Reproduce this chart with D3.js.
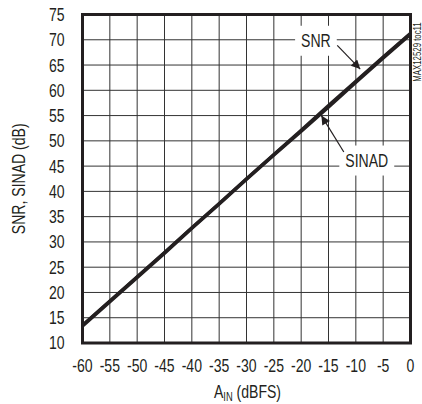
<!DOCTYPE html>
<html>
<head>
<meta charset="utf-8">
<script src="https://cdn.jsdelivr.net/npm/d3@7"></script>
<style>
  body { margin: 0; background: #fff; }
  text { font-family: "Liberation Sans", Arial, sans-serif; fill: #231f20; }
</style>
</head>
<body>
<svg id="chart"></svg>
<script>
// input amplitude (dBFS)
const ain = [-60, -55, -50, -45, -40, -35, -30, -25, -20, -15, -10, -5, 0];
const snr = [13.5, 18.3, 23.1, 27.9, 32.8, 37.6, 42.5, 47.3, 52.1, 57.0, 61.8, 66.6, 71.3];
const sinad = [13.4, 18.2, 23.0, 27.8, 32.7, 37.5, 42.4, 47.2, 51.9, 56.7, 61.6, 66.4, 71.1];

const xTicks = [-60, -55, -50, -45, -40, -35, -30, -25, -20, -15, -10, -5, 0];
const yTicks = [10, 15, 20, 25, 30, 35, 40, 45, 50, 55, 60, 65, 70, 75];

// label text, label anchor, arrow start, arrow tip (in data units)
const labels = [
    { text: "SNR", at: [-17.3, 69.9], from: [-13.4, 68.9], to: [-9.2, 64.2] },
    { text: "SINAD", at: [-8.0, 46.2], from: [-12.2, 47.8], to: [-16.3, 55.0] }
];

const margin = { top: 14.5, right: 11.5, bottom: 61, left: 82.5 };
const totalW = 422, totalH = 404;
const width = totalW - margin.left - margin.right;
const height = totalH - margin.top - margin.bottom;
const fs = "18px";

// squeeze text to look like a narrow face
const narrow = (sel, k = 0.78) => sel.each(function () {
    const w = this.getComputedTextLength();
    d3.select(this).attr("textLength", w * k).attr("lengthAdjust", "spacingAndGlyphs");
});

const svg = d3.select("#chart").attr("width", totalW).attr("height", totalH);
const g = svg.append("g").attr("transform", `translate(${margin.left}, ${margin.top})`);

const x = d3.scaleLinear().domain([-60, 0]).range([0, width]);
const y = d3.scaleLinear().domain([10, 75]).range([height, 0]);

svg.append("defs").append("marker")
    .attr("id", "head")
    .attr("viewBox", "0 0 10 10")
    .attr("refX", 10).attr("refY", 5)
    .attr("markerWidth", 13).attr("markerHeight", 9)
    .attr("markerUnits", "userSpaceOnUse")
    .attr("orient", "auto")
    .append("path").attr("d", "M0,0 L10,5 L0,10 z").attr("fill", "#231f20");

// grid
g.append("g").selectAll("line")
    .data(xTicks.slice(1, -1))
    .join("line")
    .attr("x1", d => x(d)).attr("x2", d => x(d))
    .attr("y1", 0).attr("y2", height)
    .attr("stroke", "#333").attr("stroke-width", 1);

g.append("g").selectAll("line")
    .data(yTicks.slice(1, -1))
    .join("line")
    .attr("x1", 0).attr("x2", width)
    .attr("y1", d => y(d)).attr("y2", d => y(d))
    .attr("stroke", "#333").attr("stroke-width", 1);

// white boxes behind the labels hide the grid
const lab = g.append("g");
labels.forEach(l => {
    const t = lab.append("text")
        .attr("x", x(l.at[0])).attr("y", y(l.at[1]))
        .attr("dy", "0.36em")
        .attr("text-anchor", "middle")
        .style("font-size", fs)
        .text(l.text)
        .call(narrow);
    const bb = t.node().getBBox();
    lab.insert("rect", "text")
        .attr("x", bb.x - 6).attr("y", bb.y - 5)
        .attr("width", bb.width + 12).attr("height", bb.height + 10)
        .attr("fill", "#fff");
});

const line = (vals) => d3.line().x((d, i) => x(ain[i])).y(d => y(d))(vals);

g.append("path").attr("d", line(sinad))
    .attr("fill", "none").attr("stroke", "#231f20").attr("stroke-width", 3.6);
g.append("path").attr("d", line(snr))
    .attr("fill", "none").attr("stroke", "#231f20").attr("stroke-width", 3.2);

g.append("g").selectAll("line")
    .data(labels)
    .join("line")
    .attr("x1", d => x(d.from[0])).attr("y1", d => y(d.from[1]))
    .attr("x2", d => x(d.to[0])).attr("y2", d => y(d.to[1]))
    .attr("stroke", "#231f20").attr("stroke-width", 1.2)
    .attr("marker-end", "url(#head)");

// frame
g.append("rect")
    .attr("width", width).attr("height", height)
    .attr("fill", "none").attr("stroke", "#231f20").attr("stroke-width", 3);

// tick labels
g.append("g").selectAll("text")
    .data(xTicks)
    .join("text")
    .attr("x", d => x(d)).attr("y", height + 29)
    .attr("text-anchor", "middle")
    .style("font-size", fs)
    .text(d => d)
    .call(narrow);

g.append("g").selectAll("text")
    .data(yTicks)
    .join("text")
    .attr("x", -18).attr("y", d => y(d))
    .attr("dy", "0.36em")
    .attr("text-anchor", "end")
    .style("font-size", fs)
    .text(d => d)
    .call(narrow);

// axis titles
const xt = svg.append("g")
    .attr("transform", `translate(${margin.left + width / 2 + 1}, 398) scale(0.78, 1)`)
    .append("text")
    .attr("text-anchor", "middle")
    .style("font-size", fs);
xt.append("tspan").text("A");
xt.append("tspan").attr("dy", 3).style("font-size", "12px").text("IN");
xt.append("tspan").attr("dy", -3).text(" (dBFS)");

svg.append("text")
    .attr("transform", `translate(25, ${margin.top + height / 2}) rotate(-90)`)
    .attr("text-anchor", "middle")
    .style("font-size", fs)
    .text("SNR, SINAD (dB)")
    .call(narrow);

svg.append("text")
    .attr("transform", `translate(421, 52) rotate(-90)`)
    .attr("text-anchor", "middle")
    .style("font-size", "10px")
    .text("MAX12529 toc11")
    .call(narrow);
</script>
</body>
</html>
